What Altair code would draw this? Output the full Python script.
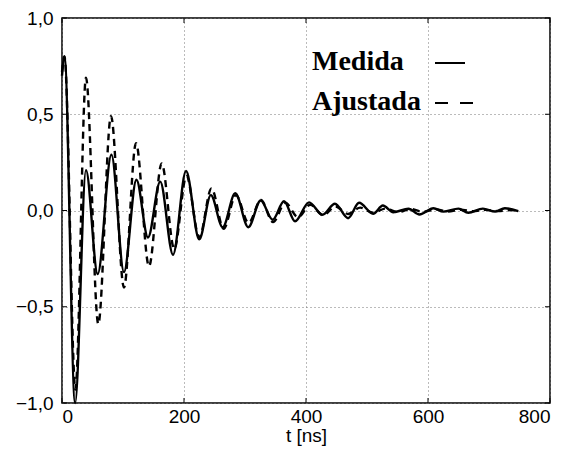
import altair as alt
import pandas as pd

t_med = [0, 4, 21.5, 39.3, 58.5, 81, 101.6, 122, 141, 161, 182, 203.3, 225, 244,
         263.4, 284, 305.4, 325.7, 345.4, 364, 382, 405, 427, 447.5, 469, 487,
         510, 526, 543, 568, 586, 609, 625, 650, 666, 690, 710, 726, 748]
v_med = [0.70, 0.80, -1.0, 0.21, -0.33, 0.29, -0.32, 0.16, -0.14, 0.15, -0.23,
         0.205, -0.15, 0.08, -0.087, 0.09, -0.087, 0.052, -0.048, 0.048, -0.056,
         0.042, -0.022, 0.035, -0.04, 0.04, -0.017, 0.026, -0.009, 0.009, -0.021,
         0.012, -0.006, 0.01, -0.012, 0.01, -0.005, 0.012, -0.003]

# Fitted signal ("Ajustada")
t_fit = [0, 4, 22, 39.3, 59.5, 80.3, 101.6, 121.3, 142.6, 163.4, 184, 204, 225,
         245, 265, 285, 306, 326, 346, 366, 387, 407, 428, 448, 469, 489, 510,
         530, 551, 571, 592, 612, 633, 653, 674, 694, 715, 735, 748]
v_fit = [0.72, 0.80, -0.93, 0.69, -0.59, 0.49, -0.40, 0.35, -0.29, 0.245, -0.20,
         0.18, -0.14, 0.115, -0.095, 0.08, -0.065, 0.055, -0.06, 0.04, -0.035,
         0.03, -0.025, 0.021, -0.018, 0.015, -0.012, 0.01, -0.009, 0.008, -0.007,
         0.006, -0.005, 0.004, -0.004, 0.003, -0.003, 0.002, 0.0]

x_ticks = [0, 200, 400, 600, 800]
y_ticks = [-1.0, -0.5, 0.0, 0.5, 1.0]
legend_labels = ["Medida", "Ajustada"]

df_med = pd.DataFrame({"t": t_med, "v": v_med})
df_fit = pd.DataFrame({"t": t_fit, "v": v_fit})
df_xt = pd.DataFrame({"t": x_ticks})
df_yt = pd.DataFrame({"v": y_ticks})

W, H = 488, 385
TK = 5

x_enc = alt.X("t:Q", scale=alt.Scale(domain=[0, 800], nice=False),
              axis=alt.Axis(values=x_ticks, title="t [ns]", labelPadding=4,
                            titleBaseline="alphabetic", titleY=38))
y_enc = alt.Y("v:Q", scale=alt.Scale(domain=[-1, 1], nice=False),
              axis=alt.Axis(values=y_ticks, title=None, labelPadding=9,
                            labelExpr="replace(format(datum.value, '.1f'), '.', ',')"))

fit = alt.Chart(df_fit).mark_line(
    color="black", strokeWidth=2.4, strokeDash=[7, 5], interpolate="monotone"
).encode(x=x_enc, y=y_enc)

med = alt.Chart(df_med).mark_line(
    color="black", strokeWidth=2.4, interpolate="monotone"
).encode(x="t:Q", y="v:Q")

# inward tick marks on all four sides
tick_style = dict(color="black", strokeWidth=1)
tk_bottom = alt.Chart(df_xt).mark_rule(**tick_style).encode(
    x="t:Q", y=alt.value(H), y2=alt.value(H - TK))
tk_top = alt.Chart(df_xt).mark_rule(**tick_style).encode(
    x="t:Q", y=alt.value(0), y2=alt.value(TK))
tk_left = alt.Chart(df_yt).mark_rule(**tick_style).encode(
    y="v:Q", x=alt.value(0), x2=alt.value(TK))
tk_right = alt.Chart(df_yt).mark_rule(**tick_style).encode(
    y="v:Q", x=alt.value(W), x2=alt.value(W - TK))

one = pd.DataFrame({"k": [0]})
txt_style = dict(font="Liberation Serif", fontWeight="bold", fontSize=28,
                 align="left", baseline="alphabetic", color="black")
leg_t1 = alt.Chart(one).mark_text(text=legend_labels[0], **txt_style).encode(
    x=alt.value(250), y=alt.value(52))
leg_t2 = alt.Chart(one).mark_text(text=legend_labels[1], **txt_style).encode(
    x=alt.value(250), y=alt.value(92))
leg_l1 = alt.Chart(one).mark_rule(color="black", strokeWidth=2).encode(
    x=alt.value(373), x2=alt.value(403), y=alt.value(45))
leg_l2 = alt.Chart(one).mark_rule(color="black", strokeWidth=2,
                                  strokeDash=[13, 12]).encode(
    x=alt.value(373), x2=alt.value(411), y=alt.value(85))

chart = alt.layer(fit, med, tk_bottom, tk_top, tk_left, tk_right,
                  leg_t1, leg_t2, leg_l1, leg_l2).properties(
    width=W, height=H,
    autosize=alt.AutoSizeParams(type="none"),
    padding={"left": 54, "top": 10, "right": 20, "bottom": 43},
).configure_view(
    stroke="black", strokeWidth=1.5
).configure_axis(
    grid=True, gridColor="#777777", gridDash=[1, 3], gridWidth=1,
    ticks=False, domain=False,
    labelFont="Liberation Sans", labelFontSize=19, labelColor="black",
    titleFont="Liberation Sans", titleFontSize=19, titleColor="black",
    titleFontWeight="normal"
)

chart.save("out.html", embed_options={"renderer": "svg", "actions": False})
